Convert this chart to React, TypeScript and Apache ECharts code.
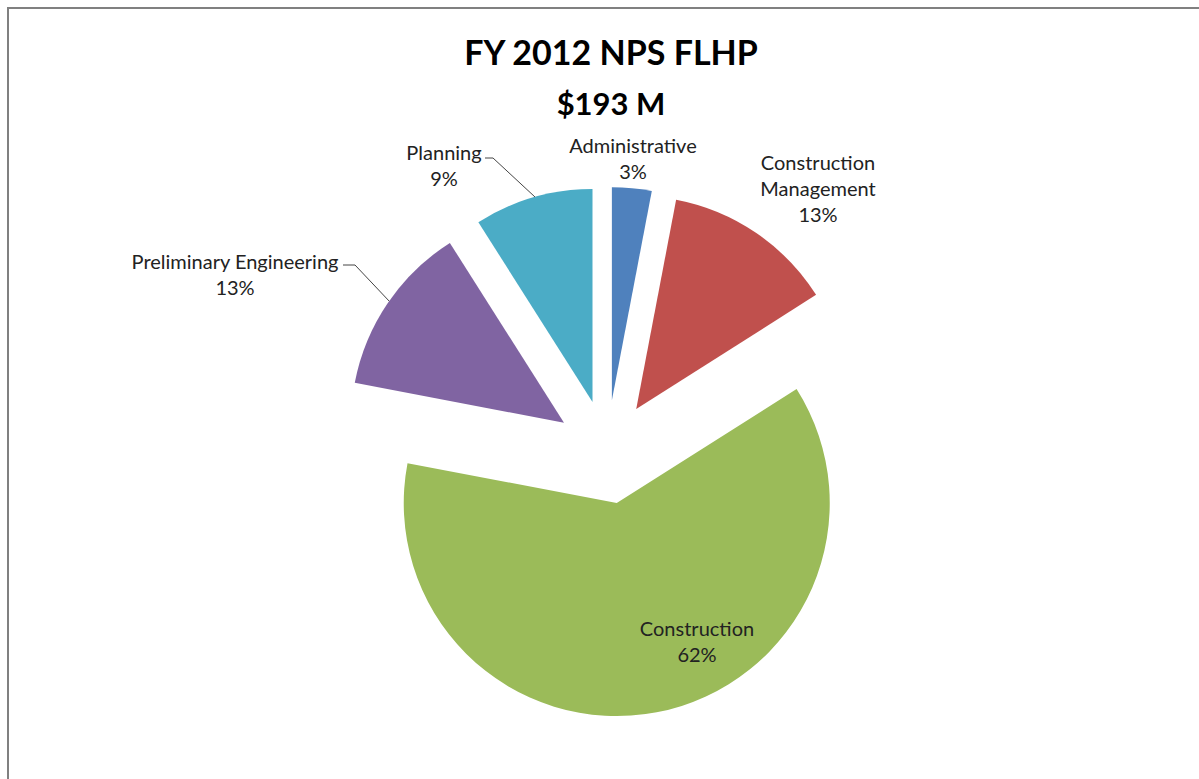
import React, { useEffect, useRef } from "react";
import * as echarts from "echarts";

const categories = [
  "Administrative",
  "Construction\nManagement",
  "Construction",
  "Preliminary Engineering",
  "Planning",
];
const values = [3, 13, 62, 13, 9];
const colors = ["#4F81BD", "#C0504D", "#9BBB59", "#8064A2", "#4BACC6"];
const titleLines = ["FY 2012 NPS FLHP", "$193 M"];

// layout (pixels)
const PIE_CENTER = [607, 452];
const PIE_RADIUS = 213;
const EXPLODE = 52;
const labelSpots: { x: number; y: number; line?: number[][] }[] = [
  { x: 633, y: 158 },
  { x: 818, y: 188 },
  { x: 697, y: 641 },
  { x: 235, y: 274, line: [[343, 265], [355, 265], [390, 302]] },
  { x: 444, y: 165, line: [[485, 158], [493, 158], [535, 197]] },
];

const FONT = "Lato, 'Open Sans', sans-serif";

export default function App() {
  const ref = useRef<HTMLDivElement>(null);
  useEffect(() => {
    if (!ref.current) return;
    const chart = echarts.init(ref.current, undefined, { renderer: "svg" });
    const total = values.reduce((a, b) => a + b, 0);
    let cum = 0;
    const series = values.map((v, i) => {
      const mid = ((cum + v / 2) / total) * Math.PI * 2;
      cum += v;
      const center = [
        PIE_CENTER[0] + EXPLODE * Math.sin(mid),
        PIE_CENTER[1] - EXPLODE * Math.cos(mid),
      ];
      const spot = labelSpots[i];
      return {
        type: "pie",
        center,
        radius: PIE_RADIUS,
        startAngle: 90,
        clockwise: true,
        avoidLabelOverlap: false,
        emphasis: { disabled: true },
        silent: true,
        data: categories.map((name, j) => ({
          name,
          value: values[j],
          itemStyle: { color: j === i ? colors[j] : "rgba(0,0,0,0)" },
          label: { show: j === i },
          labelLine: { show: j === i && !!spot.line },
        })),
        label: {
          position: "outside",
          formatter: (p: any) => `${p.name}\n${p.value}%`,
          fontFamily: FONT,
          fontSize: 20,
          lineHeight: 26,
          color: "#222",
          align: "center",
        },
        labelLine: { lineStyle: { color: "#444", width: 1 } },
        labelLayout: (params: any) => {
          if (params.dataIndex !== i) return {};
          const out: any = { x: spot.x, y: spot.y, align: "center", verticalAlign: "middle" };
          if (spot.line) out.labelLinePoints = spot.line;
          return out;
        },
      };
    });
    chart.setOption({
      animation: false,
      backgroundColor: "#fff",
      title: {
        text: titleLines[0],
        subtext: titleLines[1],
        left: 606,
        textAlign: "center",
        top: 28,
        itemGap: 18,
        textStyle: { fontFamily: FONT, fontWeight: "bold", fontSize: 34, lineHeight: 36, color: "#000" },
        subtextStyle: { fontFamily: FONT, fontWeight: "bold", fontSize: 31, lineHeight: 32, color: "#000" },
      },
      graphic: [
        {
          type: "rect",
          shape: { x: 8, y: 8, width: 1400, height: 1000 },
          style: { fill: "none", stroke: "#808080", lineWidth: 2 },
          silent: true,
        },
      ],
      series,
    });
    return () => chart.dispose();
  }, []);
  return (
    <div
      ref={ref}
      style={{ position: "fixed", left: 0, top: 0, width: 1199, height: 779 }}
    />
  );
}
